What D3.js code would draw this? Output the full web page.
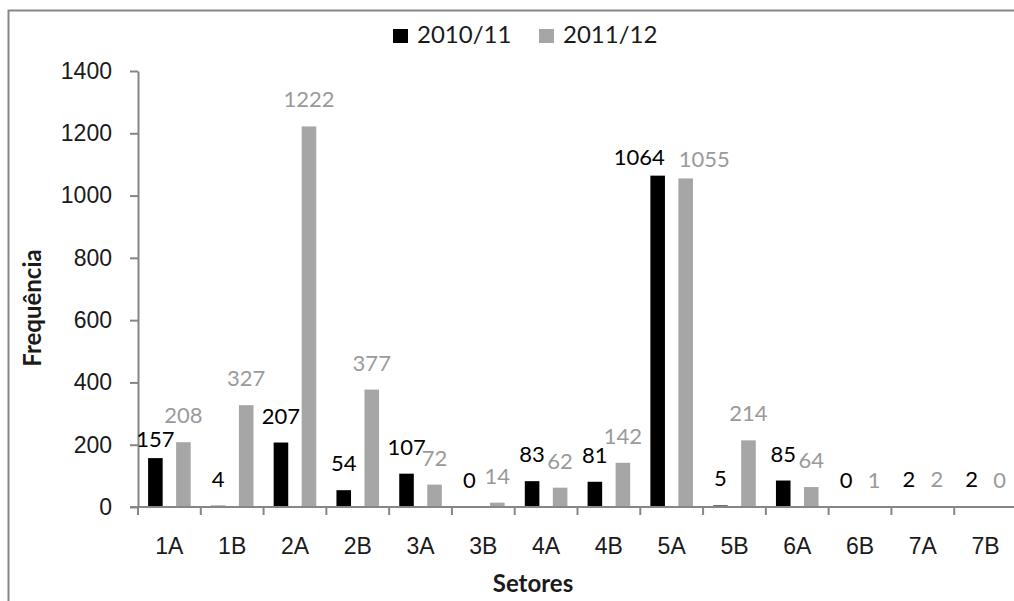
<!DOCTYPE html>
<html>
<head>
<meta charset="utf-8">
<script src="https://cdn.jsdelivr.net/npm/d3@7"></script>
<style>
  html, body { margin: 0; padding: 0; background: #fff; }
  svg { display: block; font-family: Lato, "Open Sans", sans-serif; }
</style>
</head>
<body>
<svg id="chart" width="1014" height="601"></svg>
<script>
// Setores e frequências por safra
const categories = ["1A", "1B", "2A", "2B", "3A", "3B", "4A", "4B", "5A", "5B", "6A", "6B", "7A", "7B"];
const seriesNames = ["2010/11", "2011/12"];
const values2010 = [157, 4, 207, 54, 107, 0, 83, 81, 1064, 5, 85, 0, 2, 2];
const values2011 = [208, 327, 1222, 377, 72, 14, 62, 142, 1055, 214, 64, 1, 2, 0];
const yTicks = [0, 200, 400, 600, 800, 1000, 1200, 1400];

const seriesValues = [values2010, values2011];
const barColors = ["#000000", "#a6a6a6"];
const labelColors = ["#000000", "#9a9a9a"];
const axisColor = "#868686";
const textColor = "#1a1a1a";

const svg = d3.select("#chart");

// outer chart frame (extends past the right and bottom edges)
svg.append("rect")
  .attr("x", 8.5).attr("y", 10.5)
  .attr("width", 1100).attr("height", 700)
  .attr("fill", "none").attr("stroke", axisColor).attr("stroke-width", 2);

const plot = { left: 138, right: 1017, top: 71, bottom: 507 };

const x = d3.scaleBand().domain(categories).range([plot.left, plot.right]).padding(0);
const xs = d3.scaleBand().domain(seriesNames).range([0, x.bandwidth()])
  .paddingInner(0.48).paddingOuter(0.36);
const y = d3.scaleLinear().domain([0, 1400]).range([plot.bottom, plot.top]);

// Y axis
const yAxis = svg.append("g")
  .attr("transform", `translate(${plot.left},0)`)
  .call(d3.axisLeft(y).tickValues(yTicks).tickFormat(d3.format("d"))
    .tickSize(8).tickSizeOuter(0).tickPadding(18));
yAxis.select(".domain").attr("stroke", axisColor).attr("stroke-width", 2);
yAxis.selectAll(".tick line").attr("stroke", axisColor).attr("stroke-width", 2);
yAxis.selectAll(".tick text").attr("fill", textColor).style("font-size", "23px");

// bars
const groups = svg.append("g").selectAll("g")
  .data(seriesNames)
  .join("g")
  .attr("fill", (d, i) => barColors[i]);

groups.selectAll("rect")
  .data((s, si) => categories.map((c, ci) => ({ c, s, si, v: seriesValues[si][ci] })))
  .join("rect")
  .attr("x", d => x(d.c) + xs(d.s))
  .attr("width", xs.bandwidth())
  .attr("y", d => y(d.v))
  .attr("height", d => y(0) - y(d.v));

// X axis: baseline and category boundary ticks
const xAxisG = svg.append("g");
xAxisG.append("line")
  .attr("x1", plot.left - 8).attr("x2", plot.right)
  .attr("y1", y(0)).attr("y2", y(0))
  .attr("stroke", axisColor).attr("stroke-width", 2);
const boundaries = categories.map(c => x(c)).concat([x.range()[1]]);
xAxisG.selectAll("line.b")
  .data(boundaries)
  .join("line")
  .attr("class", "b")
  .attr("x1", d => d).attr("x2", d => d)
  .attr("y1", y(0)).attr("y2", y(0) + 8)
  .attr("stroke", axisColor).attr("stroke-width", 2);

const xLab = svg.append("g")
  .attr("transform", `translate(0,${plot.bottom})`)
  .call(d3.axisBottom(x).tickSize(0).tickPadding(31));
xLab.select(".domain").remove();
xLab.selectAll(".tick text").attr("fill", textColor).style("font-size", "23px");

// value labels above the bars; colliding pairs are nudged down and apart
const labelSize = 22;
const gapNormal = 19, gapTight = 11, textH = 16;
const labelData = [];
categories.forEach((c, ci) => {
  seriesNames.forEach((s, si) => {
    const v = seriesValues[si][ci];
    labelData.push({ c, s, si, v, cx: x(c) + xs(s) + xs.bandwidth() / 2, by: y(v) - gapNormal });
  });
});

const labels = svg.append("g").selectAll("text")
  .data(labelData)
  .join("text")
  .attr("text-anchor", "middle")
  .attr("fill", d => labelColors[d.si])
  .style("font-size", labelSize + "px")
  .text(d => d.v);

labels.each(function (d) { d.w = this.getComputedTextLength(); });
const hOverlap = (a, b) => (a.cx + a.w / 2) - (b.cx - b.w / 2);
const vClash = (a, b) => Math.abs(a.by - b.by) < textH;
categories.forEach(c => {
  const [a, b] = labelData.filter(d => d.c === c);
  if (!(vClash(a, b) && hOverlap(a, b) > 6)) return;
  // lower label drops closer to its bar
  const low = a.v < b.v ? a : b;
  low.by = y(low.v) - gapTight;
  if (vClash(a, b)) {
    a.by = y(a.v) - gapTight;
    b.by = y(b.v) - gapTight;
    const push = (hOverlap(a, b) + 14) / 2;
    a.cx -= push;
    b.cx += push;
  }
});
labels.attr("x", d => d.cx).attr("y", d => d.by);

// legend
const legend = svg.append("g").attr("transform", "translate(393,29)");
const legendItems = legend.selectAll("g")
  .data(seriesNames)
  .join("g")
  .attr("transform", (d, i) => `translate(${i * 146},0)`);
legendItems.append("rect")
  .attr("width", 15).attr("height", 14)
  .attr("fill", (d, i) => barColors[i]);
legendItems.append("text")
  .attr("x", 24).attr("y", 14)
  .attr("fill", textColor)
  .style("font-size", "24px")
  .text(d => d);

// axis titles
svg.append("text")
  .attr("transform", "translate(41,308) rotate(-90)")
  .attr("text-anchor", "middle")
  .style("font-size", "24px").style("font-weight", "bold")
  .attr("fill", textColor)
  .text("Frequência");

svg.append("text")
  .attr("x", 533).attr("y", 592)
  .attr("text-anchor", "middle")
  .style("font-size", "24px").style("font-weight", "bold")
  .attr("fill", textColor)
  .text("Setores");
</script>
</body>
</html>
